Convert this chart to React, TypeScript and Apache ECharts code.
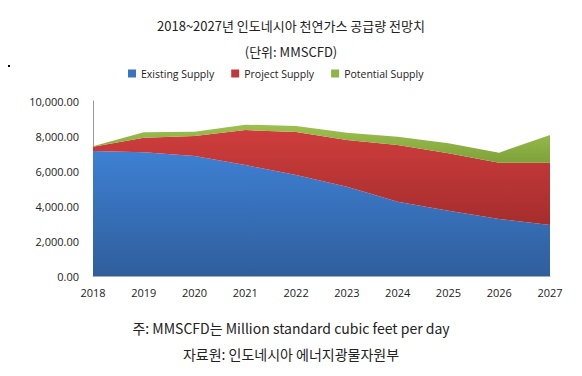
import React, { useEffect, useRef } from "react";
import * as echarts from "echarts";

const years = ["2018", "2019", "2020", "2021", "2022", "2023", "2024", "2025", "2026", "2027"];
const existingSupply = [7150, 7070, 6860, 6340, 5770, 5100, 4250, 3730, 3260, 2910];
const projectSupply = [240, 830, 1140, 2000, 2460, 2670, 3240, 3280, 3210, 3560];
const potentialSupply = [20, 310, 250, 310, 340, 420, 470, 570, 580, 1590];

const titleText = "2018~2027년 인도네시아 천연가스 공급량 전망치";
const unitText = "(단위: MMSCFD)";
const noteText = "주: MMSCFD는 Million standard cubic feet per day";
const sourceText = "자료원: 인도네시아 에너지광물자원부";

const KR = '"Noto Sans CJK KR", "Noto Sans", sans-serif';

function grad(top: string, bottom: string) {
  return new echarts.graphic.LinearGradient(0, 0, 0, 1, [
    { offset: 0, color: top },
    { offset: 1, color: bottom },
  ]);
}

export default function App() {
  const ref = useRef<HTMLDivElement>(null);
  useEffect(() => {
    if (!ref.current) return;
    const chart = echarts.init(ref.current, null, { renderer: "svg" });
    chart.setOption({
      animation: false,
      backgroundColor: "#ffffff",
      title: [
        { text: titleText, left: "center", top: 14, textStyle: { fontFamily: KR, fontSize: 13, fontWeight: "normal", color: "#222" } },
        { text: unitText, left: "center", top: 40, textStyle: { fontFamily: KR, fontSize: 13, fontWeight: "normal", color: "#222" } },
        { text: noteText, left: "center", top: 316, textStyle: { fontFamily: KR, fontSize: 14, fontWeight: "normal", color: "#222" } },
        { text: sourceText, left: "center", top: 342, textStyle: { fontFamily: KR, fontSize: 14, fontWeight: "normal", color: "#222" } },
      ],
      legend: {
        top: 63,
        left: 123,
        itemWidth: 8,
        itemHeight: 8,
        itemGap: 17,
        icon: "rect",
        textStyle: { fontFamily: '"Open Sans", sans-serif', fontSize: 10.5, color: "#222" },
        data: ["Existing Supply", "Project Supply", "Potential Supply"],
      },
      graphic: [
        { type: "rect", shape: { x: 8, y: 65, width: 2, height: 2 }, style: { fill: "#000" } },
      ],
      grid: { left: 93, right: 32, top: 101, bottom: 100 },
      xAxis: {
        type: "category",
        data: years,
        boundaryGap: false,
        axisLine: { show: true, lineStyle: { color: "#aaa" } },
        axisTick: { show: false },
        axisLabel: { fontFamily: '"Open Sans", sans-serif', fontSize: 11, color: "#222", margin: 11 },
      },
      yAxis: {
        type: "value",
        min: 0,
        max: 10000,
        interval: 2000,
        axisLine: { show: true, lineStyle: { color: "#999" } },
        axisTick: { show: false },
        splitLine: { show: false },
        axisLabel: {
          fontFamily: '"Open Sans", sans-serif',
          fontSize: 11,
          color: "#222",
          margin: 14,
          formatter: (v: number) => v.toLocaleString("en-US", { minimumFractionDigits: 2, maximumFractionDigits: 2 }),
        },
      },
      series: [
        {
          name: "Existing Supply",
          type: "line",
          stack: "total",
          data: existingSupply,
          symbol: "none",
          lineStyle: { width: 0 },
          itemStyle: { color: "#3a73c0" },
          areaStyle: { color: grad("#3e80d3", "#2f5e9c"), opacity: 1 },
        },
        {
          name: "Project Supply",
          type: "line",
          stack: "total",
          data: projectSupply,
          symbol: "none",
          lineStyle: { width: 0 },
          itemStyle: { color: "#c0393a" },
          areaStyle: { color: grad("#cf3d3d", "#a52d2d"), opacity: 1 },
        },
        {
          name: "Potential Supply",
          type: "line",
          stack: "total",
          data: potentialSupply,
          symbol: "none",
          lineStyle: { width: 0 },
          itemStyle: { color: "#8fb446" },
          areaStyle: { color: grad("#9dc04f", "#7ea23a"), opacity: 1 },
        },
      ],
    });
    return () => chart.dispose();
  }, []);
  return <div ref={ref} style={{ width: 582, height: 376, position: "absolute", left: 0, top: 0 }} />;
}
